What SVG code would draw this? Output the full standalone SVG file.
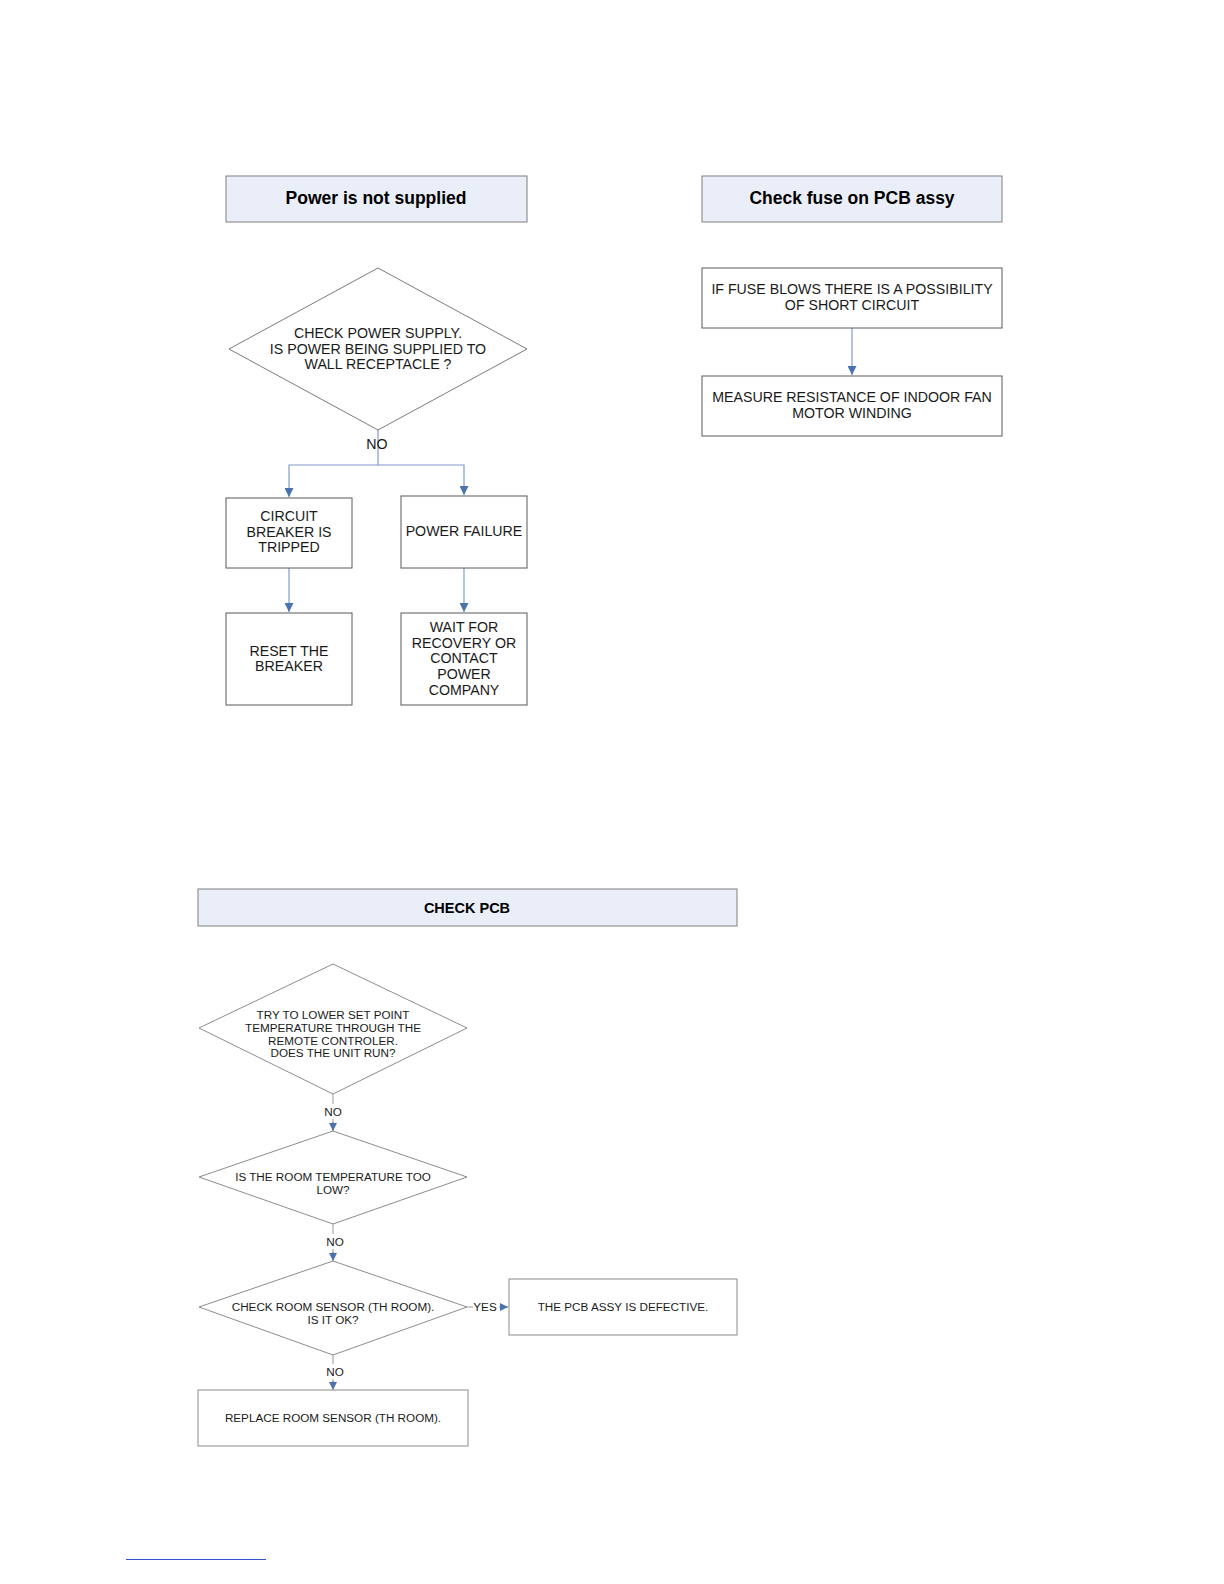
<svg xmlns="http://www.w3.org/2000/svg" width="1224" height="1584" viewBox="0 0 1224 1584">
<style>
.hdr{fill:#e9eef8;stroke:#7f7f7f;stroke-width:1}
.box{fill:#ffffff;stroke:#595959;stroke-width:1}
.box2{fill:#ffffff;stroke:#8c8c8c;stroke-width:1}
.dia{fill:#ffffff;stroke:#595959;stroke-width:0.8}
.dia2{fill:#ffffff;stroke:#8c8c8c;stroke-width:1}
.t{font-family:"Liberation Sans",Arial,sans-serif;font-size:14.2px;fill:#1a1a1a;text-anchor:middle}
.ts{font-family:"Liberation Sans",Arial,sans-serif;font-size:11.7px;fill:#1a1a1a;text-anchor:middle}
.th{font-family:"Liberation Sans",Arial,sans-serif;font-size:17.5px;font-weight:bold;fill:#000;text-anchor:middle}
.th2{font-family:"Liberation Sans",Arial,sans-serif;font-size:14.5px;font-weight:bold;fill:#000;text-anchor:middle}
.c{fill:none;stroke:#7f9ccc;stroke-width:1.2}
.c2{fill:none;stroke:#9a9a9a;stroke-width:1}
</style>
<defs>
<marker id="ah" viewBox="0 0 10 10" refX="10" refY="5" markerWidth="9" markerHeight="9" markerUnits="userSpaceOnUse" orient="auto">
<path d="M0,0 L10,5 L0,10 z" fill="#4a72b0"/>
</marker>
<marker id="ahs" viewBox="0 0 10 10" refX="10" refY="5" markerWidth="8" markerHeight="8" markerUnits="userSpaceOnUse" orient="auto">
<path d="M0,0 L10,5 L0,10 z" fill="#4a72b0"/>
</marker>
</defs>
<rect width="1224" height="1584" fill="#ffffff"/>

<g id="connectors">
<path class="c" d="M378,430 V465 H289 V497" marker-end="url(#ah)"/>
<path class="c" d="M378,465 H464 V495" marker-end="url(#ah)"/>
<path class="c" d="M289,568 V612" marker-end="url(#ah)"/>
<path class="c" d="M464,568 V612" marker-end="url(#ah)"/>
<path class="c" d="M852,328 V375" marker-end="url(#ah)"/>
<path class="c2" d="M333,1094 V1104 M333,1119 V1128"/>
<path class="c2" d="M333,1224 V1234 M333,1249 V1258"/>
<path class="c2" d="M333,1355 V1364 M333,1379 V1387"/>
<path class="c2" d="M467,1307 H473 M499,1307 H505"/>
<path d="M333,1122 V1131" stroke="#4a72b0" stroke-width="1" marker-end="url(#ahs)"/>
<path d="M333,1252 V1261" stroke="#4a72b0" stroke-width="1" marker-end="url(#ahs)"/>
<path d="M333,1381 V1390" stroke="#4a72b0" stroke-width="1" marker-end="url(#ahs)"/>
<path d="M501,1307 H508" stroke="#4a72b0" stroke-width="1" marker-end="url(#ahs)"/>
</g>

<g id="hdr-power">
<rect class="hdr" x="226" y="176" width="301" height="46"/>
<text class="th" x="376" y="204">Power is not supplied</text>
</g>
<g id="dia-power">
<polygon class="dia" points="378,268 527,349 378,430 229,349"/>
<text class="t" x="378" y="338">CHECK POWER SUPPLY.</text>
<text class="t" x="378" y="354">IS POWER BEING SUPPLIED TO</text>
<text class="t" x="378" y="369">WALL RECEPTACLE ?</text>
</g>
<g id="lbl-no1"><text class="t" x="377" y="449">NO</text></g>
<g id="box-breaker">
<rect class="box" x="226" y="498" width="126" height="70"/>
<text class="t" x="289" y="521">CIRCUIT</text>
<text class="t" x="289" y="537">BREAKER IS</text>
<text class="t" x="289" y="552">TRIPPED</text>
</g>
<g id="box-failure">
<rect class="box" x="401" y="496" width="126" height="72"/>
<text class="t" x="464" y="536">POWER FAILURE</text>
</g>
<g id="box-reset">
<rect class="box" x="226" y="613" width="126" height="92"/>
<text class="t" x="289" y="656">RESET THE</text>
<text class="t" x="289" y="671">BREAKER</text>
</g>
<g id="box-wait">
<rect class="box" x="401" y="613" width="126" height="92"/>
<text class="t" x="464" y="632">WAIT FOR</text>
<text class="t" x="464" y="648">RECOVERY OR</text>
<text class="t" x="464" y="663">CONTACT</text>
<text class="t" x="464" y="679">POWER</text>
<text class="t" x="464" y="695">COMPANY</text>
</g>

<g id="hdr-fuse">
<rect class="hdr" x="702" y="176" width="300" height="46"/>
<text class="th" x="852" y="204">Check fuse on PCB assy</text>
</g>
<g id="box-fuse">
<rect class="box" x="702" y="268" width="300" height="60"/>
<text class="t" x="852" y="294">IF FUSE BLOWS THERE IS A POSSIBILITY</text>
<text class="t" x="852" y="310">OF SHORT CIRCUIT</text>
</g>
<g id="box-measure">
<rect class="box" x="702" y="376" width="300" height="60"/>
<text class="t" x="852" y="402">MEASURE RESISTANCE OF INDOOR FAN</text>
<text class="t" x="852" y="418">MOTOR WINDING</text>
</g>

<g id="hdr-pcb">
<rect class="hdr" x="198" y="889" width="539" height="37"/>
<text class="th2" x="467" y="913">CHECK PCB</text>
</g>
<g id="dia-lower">
<polygon class="dia2" points="333,964 467,1028 333,1094 199,1028"/>
<text class="ts" x="333" y="1019">TRY TO LOWER SET POINT</text>
<text class="ts" x="333" y="1032">TEMPERATURE THROUGH THE</text>
<text class="ts" x="333" y="1045">REMOTE CONTROLER.</text>
<text class="ts" x="333" y="1057">DOES THE UNIT RUN?</text>
</g>
<g id="lbl-no2"><text class="ts" x="333" y="1116">NO</text></g>
<g id="dia-roomtemp">
<polygon class="dia2" points="333,1131 467,1177 333,1224 199,1177"/>
<text class="ts" x="333" y="1181">IS THE ROOM TEMPERATURE TOO</text>
<text class="ts" x="333" y="1194">LOW?</text>
</g>
<g id="lbl-no3"><text class="ts" x="335" y="1246">NO</text></g>
<g id="dia-sensor">
<polygon class="dia2" points="333,1261 467,1307 333,1355 199,1307"/>
<text class="ts" x="333" y="1311">CHECK ROOM SENSOR (TH ROOM).</text>
<text class="ts" x="333" y="1324">IS IT OK?</text>
</g>
<g id="lbl-yes"><text class="ts" x="485" y="1311">YES</text></g>
<g id="box-defective">
<rect class="box2" x="509" y="1279" width="228" height="56"/>
<text class="ts" x="623" y="1311">THE PCB ASSY IS DEFECTIVE.</text>
</g>
<g id="lbl-no4"><text class="ts" x="335" y="1376">NO</text></g>
<g id="box-replace">
<rect class="box2" x="198" y="1390" width="270" height="56"/>
<text class="ts" x="333" y="1422">REPLACE ROOM SENSOR (TH ROOM).</text>
</g>
<line x1="126" y1="1559.5" x2="266" y2="1559.5" stroke="#3355cc" stroke-width="1"/>
</svg>
